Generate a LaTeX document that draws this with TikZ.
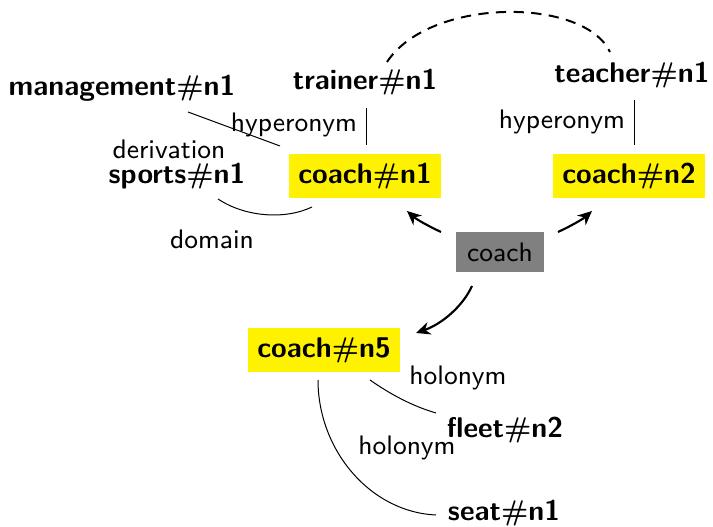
\documentclass[tikz,border=0pt]{standalone}
\usetikzlibrary{arrows.meta}
\definecolor{synyellow}{HTML}{FFF200}
\definecolor{wordgray}{HTML}{808080}
\newcommand{\hsh}{{\boldmath$\#$}}
\begin{document}
\begin{tikzpicture}[x=0.351pt,y=-0.351pt,font=\sffamily,
  syn/.style={font=\sffamily\bfseries},
  sel/.style={syn,fill=synyellow},
  word/.style={font=\sffamily\fontsize{9.4}{11}\selectfont,fill=wordgray,inner xsep=3.9pt,inner ysep=3.6pt},
  rel/.style={font=\sffamily\fontsize{9.4}{11}\selectfont},
  link/.style={draw=black,line width=0.35pt},
  pick/.style={line width=0.75pt,-{Stealth[length=5pt,width=4.5pt]}},
  sim/.style={line width=0.7pt,dash pattern=on 3.6pt off 2.6pt}]
\useasboundingbox (0,0) rectangle (713,527);
% nodes
\node[syn] (man) at (122,88) {management\hsh n1};
\node[syn] (tra) at (365,82) {trainer\hsh n1};
\node[syn] (tea) at (632,75) {teacher\hsh n1};
\node[syn] (spo) at (177,176) {sports\hsh n1};
\node[sel] (cn1) at (365,176) {coach\hsh n1};
\node[sel] (cn2) at (629,176) {coach\hsh n2};
\node[word] (w) at (500,252) {coach};
\node[sel] (cn5) at (324,350) {coach\hsh n5};
\node[syn] (fle) at (505,430) {fleet\hsh n2};
\node[syn] (sea) at (504,513) {seat\hsh n1};
% relation labels
\node[rel] (l1) at (294,125) {hyperonym};
\node[rel] (l2) at (562,122) {hyperonym};
\node[rel] (l3) at (169,149) {derivation};
\node[rel] (l4) at (212,239) {domain};
\node[rel] (l5) at (458,378) {holonym};
\node[rel] (l6) at (407,448) {holonym};
% connectors
\draw[link] ([shift={(66,24)}]man.center) -- ([shift={(-85,-30)}]cn1.center);
\draw[link] ([shift={(1,26)}]tra.center) -- ([shift={(1,-31)}]cn1.center);
\draw[link] ([shift={(2,25)}]tea.center) -- ([shift={(5,-31)}]cn2.center);
\draw[link] ([shift={(41,23)}]spo.center) .. controls (245,217) and (285,220) .. ([shift={(-53,31)}]cn1.center);
\draw[sim] ([shift={(22,-20)}]tra.center) .. controls (430,-3) and (584,-3) .. ([shift={(-22,-23)}]tea.center);
\draw[pick] ([shift={(-59,-20)}]w.center) .. controls (428,226) and (416,219) .. ([shift={(42,35)}]cn1.center);
\draw[pick] ([shift={(58,-20)}]w.center) .. controls (571,226) and (583,219) .. ([shift={(-37,35)}]cn2.center);
\draw[pick] ([shift={(-28,34)}]w.center) .. controls (463,306) and (442,324) .. ([shift={(92,-17)}]cn5.center);
\draw[link] ([shift={(46,30)}]cn5.center) .. controls (390,394) and (412,406) .. ([shift={(-69,-17)}]fle.center);
\draw[link] ([shift={(-6,30)}]cn5.center) .. controls (318,450) and (370,512) .. ([shift={(-68,2)}]sea.center);
\end{tikzpicture}
\end{document}
